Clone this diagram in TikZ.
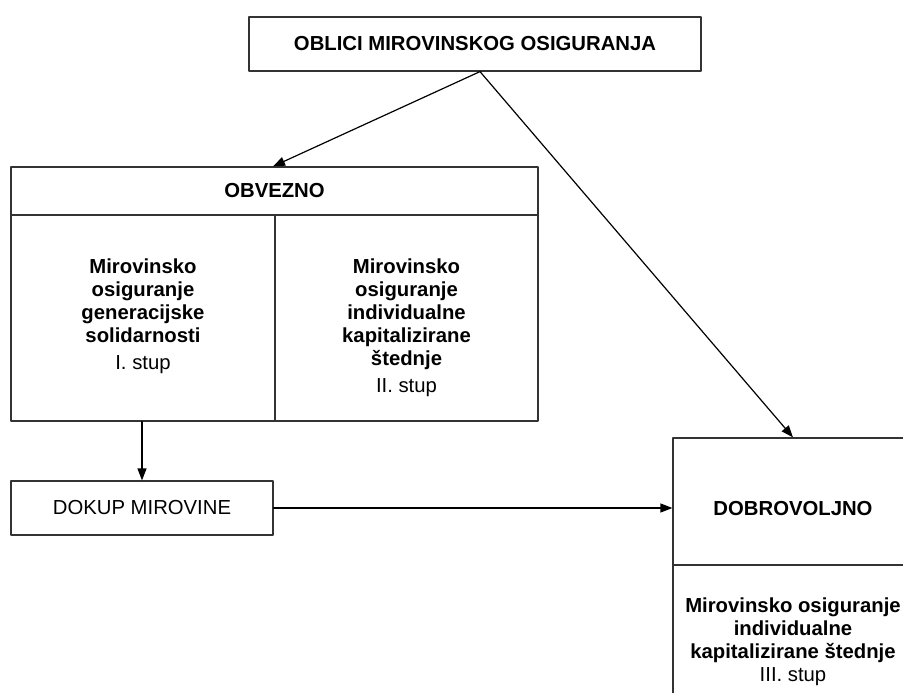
\documentclass[tikz,border=0pt]{standalone}
\usepackage{fontspec}
\setmainfont{Liberation Sans}
\usetikzlibrary{positioning,arrows.meta}
\begin{document}
\begin{tikzpicture}[x=1pt,y=-1pt,line cap=round,line join=round,>={Triangle[length=12pt,width=9pt]},
	txt/.style={inner sep=0pt,align=center,font=\fontsize{20.3}{23}\selectfont},
	boldtxt/.style={txt,font=\fontsize{20.3}{23}\selectfont\bfseries},
	cell/.style={draw=black!80,line width=1.2pt,inner sep=0pt,rectangle},
	arr/.style={->,line width=1.2pt,color=black}]
	\useasboundingbox (0,0) rectangle (903,693);
	\node[cell,boldtxt,minimum width=452pt,minimum height=54pt] (oblici) at (475,44) {OBLICI MIROVINSKOG OSIGURANJA};
	% obvezno
	\node[cell,boldtxt,minimum width=527pt,minimum height=48pt] (obvezno) at (274.5,191) {OBVEZNO};
	\node[cell,minimum width=264pt,minimum height=206pt] (stupI) at (143,318) {};
	\node[cell,minimum width=263pt,minimum height=206pt] (stupII) at (406.5,318) {};
	\node[boldtxt,below=44pt of stupI.north] (tI) {Mirovinsko\\osiguranje\\generacijske\\solidarnosti\\[4pt]\mdseries I. stup};
	\node[boldtxt,below=44pt of stupII.north] (tII) {Mirovinsko\\osiguranje\\individualne\\kapitalizirane\\štednje\\[4pt]\mdseries II. stup};
	\node[cell,txt,minimum width=262pt,minimum height=54pt] (dokup) at (142,508) {DOKUP MIROVINE};
	% dobrovoljno
	\node[cell,minimum width=240pt,minimum height=127pt] (dobro) at (793,501.5) {};
	\node[boldtxt] (tdobro) at ([yshift=-7pt]dobro.center) {DOBROVOLJNO};
	\node[cell,minimum width=240pt,minimum height=150pt] (stupIII) at (793,640) {};
	\node[boldtxt,below=33pt of stupIII.north] (tIII) {Mirovinsko osiguranje\\individualne\\kapitalizirane štednje\\\mdseries III. stup};
	\draw[arr] ([xshift=5pt]oblici.south) -- ([xshift=-1.5pt]obvezno.north);
	\draw[arr] ([xshift=5pt]oblici.south) -- (dobro.north);
	\draw[arr] (dokup.north |- stupI.south) -- (dokup.north);
	\draw[arr] (dokup.east) -- (dokup.east -| dobro.west);
\end{tikzpicture}
\end{document}
